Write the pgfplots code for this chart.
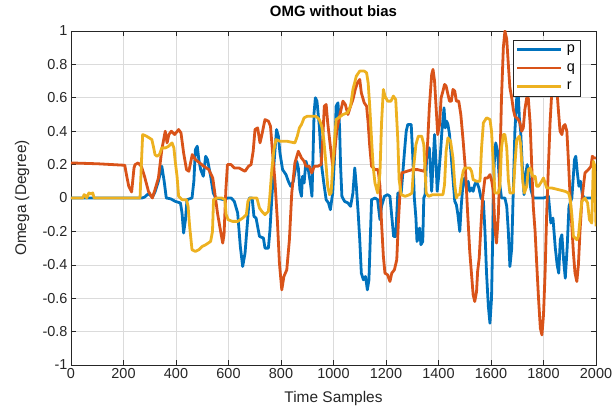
\documentclass[border=0pt]{standalone}
\usepackage{fontspec}
\setmainfont{Liberation Sans}
\usepackage{pgfplots}
\pgfplotsset{compat=1.18}
\definecolor{cp}{rgb}{0,0.447,0.741}
\definecolor{cq}{rgb}{0.85,0.325,0.098}
\definecolor{cr}{rgb}{0.929,0.694,0.125}
\definecolor{axgray}{gray}{0.15}
\begin{document}
\begin{tikzpicture}
\useasboundingbox (-71bp,-44bp) rectangle (541bp,365bp);
\begin{axis}[
  at={(0,0)}, anchor=south west,
  scale only axis, width=525bp, height=334bp,
  xmin=0, xmax=2000, ymin=-1, ymax=1,
  xtick={0,200,400,600,800,1000,1200,1400,1600,1800,2000},
  xticklabels={0,200,400,600,800,1000,1200,1400,1600,1800,2000},
  ytick={-1,-0.8,-0.6,-0.4,-0.2,0,0.2,0.4,0.6,0.8,1},
  yticklabels={-1,-0.8,-0.6,-0.4,-0.2,0,0.2,0.4,0.6,0.8,1},
  tick label style={font=\fontsize{14.5}{16}\selectfont, text=axgray},
  grid=major, major grid style={black!14, line width=0.6bp},
  axis line style={axgray, line width=0.7bp},
  tick align=inside, major tick length=5bp, tick style={axgray, line width=0.6bp},
  xlabel={Time Samples}, ylabel={Omega (Degree)},
  label style={font=\fontsize{15.5}{18}\selectfont, text=axgray},
  xlabel style={at={(axis description cs:0.5,-0.099)}, anchor=center},
  ylabel style={at={(axis description cs:-0.0933,0.5)}, anchor=center},
  title={OMG without bias},
  title style={font=\bfseries\fontsize{15}{18}\selectfont, at={(axis description cs:0.5,1.042)}, anchor=center},
  legend style={at={(axis description cs:0.9695,0.973)}, anchor=north east,
    font=\fontsize{14.5}{16}\selectfont, draw=axgray, fill=white,
    inner xsep=3bp, inner ysep=3bp, row sep=5bp, column sep=2bp},
  legend cell align=left,
  legend image code/.code={\draw[#1] (0bp,0bp) -- (44bp,0bp);},
  every axis plot/.append style={line width=2.8bp, line join=round},
]
\addplot[cp, no marks] coordinates {
(0,0) (270,0) (280,0.005) (295,0.026) (310,0.005) (320,0.036) (333,0.1) (346,0.19) (355,0.1) (363,0)
(380,-0.005) (397,-0.02) (417,-0.03) (423,-0.09) (429,-0.21) (436,-0.13) (442,-0.01) (461,0) (468,0.1)
(474,0.29) (481,0.31) (487,0.23) (494,0.17) (504,0.13) (513,0.25) (520,0.23) (532,0.13) (542,0.03)
(551,0) (583,-0.01) (596,0) (610,0) (622,-0.02) (635,-0.09) (645,-0.29) (654,-0.41) (663,-0.33)
(673,-0.13) (679,0) (690,0) (697,-0.11) (705,-0.12) (718,-0.23) (733,-0.24) (739,-0.3) (752,-0.3)
(758,-0.19) (765,0) (773,0.2) (783,0.41) (790,0.37) (796,0.27) (806,0.17) (819,0.14) (828,0.1)
(837,0.07) (847,0.1) (860,0.22) (866,0.18) (872,0.05) (878,0.01) (882,0.13) (888,0.09) (895,0.22)
(904,0.17) (912,0.09) (918,0.01) (922,0.25) (926,0.51) (931,0.6) (937,0.58) (946,0.43) (955,0.19)
(963,0.09) (972,-0.01) (981,-0.03) (988,-0.07) (997,0.03) (1004,0.25) (1010,0.55) (1017,0.57)
(1023,0.43) (1027,0.19) (1032,0.01) (1042,-0.02) (1055,-0.03) (1065,-0.05) (1074,0.03) (1081,0.18)
(1087,0.07) (1094,-0.09) (1100,-0.25) (1106,-0.45) (1114,-0.49) (1122,-0.47) (1129,-0.55) (1135,-0.49)
(1140,-0.25) (1145,-0.01) (1158,0) (1168,-0.01) (1177,-0.13) (1183,-0.05) (1194,0.01) (1206,0.02)
(1215,0.01) (1222,-0.11) (1229,-0.23) (1237,-0.23) (1245,0.03) (1258,0.03) (1270,0.27) (1277,0.4)
(1283,0.44) (1296,0.44) (1302,0.25) (1308,0) (1314,-0.12) (1318,-0.26) (1323,-0.24) (1328,-0.18)
(1333,-0.28) (1340,-0.26) (1344,0) (1349,0.02) (1355,0.25) (1360,0.3) (1365,0.3) (1369,0.18)
(1374,0.04) (1379,0.2) (1385,0.38) (1391,0.2) (1395,0.04) (1400,0.12) (1408,0.28) (1413,0.4)
(1421,0.54) (1426,0.42) (1431,0.46) (1436,0.44) (1442,0.38) (1449,0.24) (1455,0.12) (1462,-0.02)
(1468,-0.04) (1474,-0.1) (1481,-0.2) (1487,-0.04) (1494,0.1) (1500,0.12) (1506,0.06) (1513,0.1)
(1519,0.04) (1526,0.06) (1532,0.04) (1538,0.08) (1545,0.1) (1554,0.06) (1562,0) (1571,-0.02)
(1577,-0.2) (1583,-0.45) (1590,-0.65) (1596,-0.75) (1602,-0.6) (1607,-0.2) (1612,0.2) (1618,0.33)
(1625,0.28) (1632,0.1) (1640,0) (1653,0) (1660,-0.05) (1666,-0.2) (1672,-0.41) (1679,-0.3)
(1685,0.05) (1691,0.4) (1698,0.6) (1704,0.62) (1708,0.48) (1713,0.4) (1719,0.2) (1726,0.02)
(1732,0.14) (1738,0.2) (1746,0.12) (1752,0.05) (1761,0) (1800,0) (1819,0.01) (1828,-0.15)
(1836,-0.12) (1845,-0.3) (1852,-0.4) (1858,-0.45) (1864,-0.25) (1870,-0.22) (1877,-0.38)
(1883,-0.48) (1890,-0.3) (1897,-0.05) (1908,0) (1918,0.23) (1923,0.25) (1929,0.15) (1935,0.07)
(1941,0.1) (1948,0.02) (1955,0) (2000,0)
};
\addlegendentry{p}
\addplot[cq, no marks] coordinates {
(0,0.21) (100,0.205) (205,0.196) (210,0.15) (220,0.07) (231,0.036) (240,0.18) (244,0.2) (256,0.21)
(268,0.19) (280,0.13) (295,0.04) (310,0.0) (320,0.05) (333,0.12) (346,0.29) (359,0.4) (366,0.33)
(373,0.38) (382,0.4) (395,0.38) (410,0.41) (419,0.39) (429,0.27) (440,0.17) (449,0.16) (462,0.26)
(474,0.23) (490,0.21) (506,0.19) (525,0.17) (540,0.12) (547,0.04) (558,-0.09) (570,-0.2) (578,-0.27)
(583,-0.22) (590,0.05) (596,0.2) (610,0.2) (622,0.18) (640,0.18) (651,0.17) (663,0.16) (676,0.19)
(686,0.2) (694,0.28) (701,0.41) (711,0.42) (720,0.33) (726,0.37) (739,0.47) (752,0.46) (760,0.43)
(768,0.27) (777,0.1) (786,-0.13) (794,-0.39) (803,-0.55) (811,-0.47) (822,-0.43) (832,-0.25)
(841,0.03) (853,0.21) (866,0.28) (878,0.24) (888,0.22) (895,0.19) (908,0.19) (917,0.15) (927,0.19)
(940,0.19) (953,0.2) (959,0.35) (965,0.55) (972,0.56) (978,0.45) (988,0.31) (997,0.19) (1004,0.27)
(1013,0.41) (1023,0.49) (1036,0.58) (1045,0.56) (1055,0.5) (1065,0.55) (1074,0.59) (1083,0.65)
(1091,0.69) (1100,0.71) (1106,0.63) (1117,0.57) (1126,0.55) (1132,0.45) (1138,0.31) (1145,0.19)
(1158,0.17) (1170,0.17) (1177,0.07) (1183,-0.15) (1190,-0.35) (1196,-0.45) (1206,-0.46) (1215,-0.5)
(1222,-0.45) (1232,-0.43) (1241,-0.37) (1247,-0.15) (1254,0.05) (1260,0.15) (1280,0.16) (1300,0.17)
(1320,0.17) (1346,0.16) (1352,0.22) (1359,0.34) (1365,0.54) (1374,0.74) (1379,0.77) (1385,0.7)
(1391,0.54) (1397,0.38) (1404,0.44) (1410,0.6) (1417,0.64) (1423,0.68) (1429,0.67) (1436,0.62)
(1442,0.58) (1449,0.58) (1455,0.65) (1462,0.64) (1468,0.58) (1477,0.58) (1485,0.5) (1494,0.34)
(1503,0.16) (1510,-0.06) (1519,-0.32) (1526,-0.46) (1532,-0.58) (1538,-0.62) (1545,-0.56) (1549,-0.44)
(1555,-0.36) (1562,-0.16) (1568,0) (1577,0.12) (1587,0.12) (1596,0.14) (1603,0.1) (1609,0.04)
(1615,-0.19) (1621,-0.27) (1628,-0.1) (1634,0.2) (1640,0.6) (1647,0.9) (1653,1.0) (1660,0.95)
(1666,0.8) (1672,0.66) (1679,0.6) (1685,0.53) (1691,0.49) (1704,0.47) (1710,0.45) (1717,0.4)
(1723,0.42) (1729,0.53) (1736,0.6) (1742,0.6) (1749,0.45) (1755,0.2) (1761,-0.05) (1768,-0.2)
(1774,-0.39) (1781,-0.6) (1788,-0.78) (1794,-0.82) (1800,-0.7) (1806,-0.45) (1812,-0.1) (1819,0.2)
(1825,0.45) (1831,0.62) (1838,0.72) (1845,0.75) (1851,0.65) (1857,0.52) (1863,0.4) (1870,0.38)
(1876,0.43) (1882,0.44) (1889,0.4) (1895,0.22) (1901,0.02) (1908,-0.17) (1914,-0.33) (1920,-0.45)
(1927,-0.5) (1933,-0.4) (1939,-0.2) (1946,-0.02) (1952,0.07) (1958,0.15) (1971,0.17) (1981,0.19)
(1986,0.25) (1992,0.24) (2000,0.24)
};
\addlegendentry{q}
\addplot[cr, no marks] coordinates {
(0,0) (45,0) (50,0.02) (55,0.015) (60,0) (68,0.03) (75,0.025) (83,0.03) (88,0) (263,0) (268,0.2)
(273,0.38) (288,0.37) (308,0.35) (315,0.3) (320,0.26) (327,0.25) (337,0.26) (346,0.3) (360,0.3)
(372,0.31) (385,0.33) (392,0.3) (397,0.22) (404,0.13) (410,0.01) (423,-0.01) (440,-0.01) (446,-0.05)
(452,-0.17) (461,-0.31) (474,-0.32) (487,-0.31) (500,-0.29) (513,-0.28) (532,-0.26) (539,-0.2)
(543,-0.01) (556,0) (575,0) (586,-0.01) (591,-0.1) (599,-0.13) (615,-0.14) (635,-0.14) (654,-0.12)
(668,-0.1) (674,-0.02) (682,0) (708,0) (718,-0.06) (727,-0.08) (739,-0.1) (752,-0.08) (758,0.02)
(765,0.17) (773,0.29) (781,0.35) (796,0.34) (822,0.34) (853,0.33) (862,0.37) (870,0.42) (878,0.44)
(888,0.48) (901,0.49) (914,0.49) (933,0.49) (946,0.47) (955,0.43) (963,0.35) (972,0.19) (978,0.07)
(985,0.02) (991,0.03) (997,0.19) (1004,0.35) (1010,0.47) (1019,0.48) (1036,0.5) (1053,0.51)
(1065,0.55) (1074,0.65) (1087,0.73) (1100,0.76) (1117,0.76) (1126,0.75) (1132,0.69) (1138,0.55)
(1145,0.35) (1151,0.19) (1158,0.09) (1168,0.03) (1177,0.15) (1183,0.45) (1190,0.65) (1196,0.61)
(1206,0.58) (1219,0.58) (1228,0.61) (1237,0.59) (1245,0.35) (1250,0.11) (1258,0.02) (1273,0.01)
(1290,0.02) (1299,0.03) (1305,0.18) (1314,0.32) (1323,0.37) (1336,0.37) (1344,0.32) (1349,0.16)
(1353,0.03) (1362,0.01) (1378,0.02) (1397,0.02) (1417,0.02) (1423,0.08) (1429,0.28) (1436,0.36)
(1446,0.34) (1455,0.24) (1462,0.08) (1468,0.0) (1474,0.02) (1481,0.02) (1487,0.1) (1494,0.16)
(1500,0.18) (1519,0.18) (1526,0.16) (1532,0.11) (1545,0.1) (1558,0.1) (1564,0.3) (1571,0.45)
(1583,0.48) (1596,0.47) (1602,0.4) (1609,0.2) (1615,0.03) (1628,0.03) (1634,0.07) (1640,0.3)
(1647,0.38) (1653,0.38) (1660,0.3) (1666,0.11) (1672,0.03) (1685,0.03) (1691,0.2) (1698,0.35)
(1708,0.37) (1713,0.32) (1721,0.1) (1727,0.03) (1736,0.07) (1742,0.17) (1749,0.18) (1759,0.13)
(1768,0.13) (1774,0.07) (1781,0.07) (1793,0.1) (1800,0.12) (1806,0.09) (1812,0.06) (1831,0.06)
(1857,0.05) (1882,0.04) (1895,0.03) (1901,0.0) (1908,-0.1) (1914,-0.23) (1927,-0.25) (1933,-0.23)
(1939,-0.13) (1946,-0.02) (1958,0.0) (1968,-0.03) (1975,-0.13) (1984,-0.15) (1990,0.22) (1994,0.2)
(2000,-0.17)
};
\addlegendentry{r}
\end{axis}
\end{tikzpicture}
\end{document}
